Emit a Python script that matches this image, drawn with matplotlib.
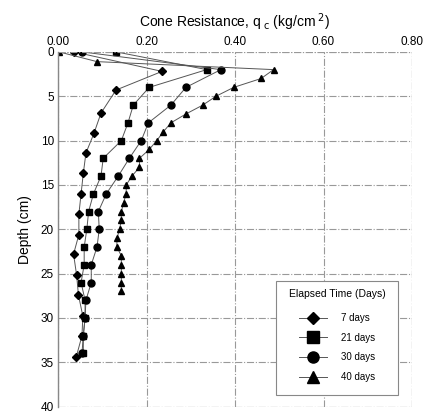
import matplotlib
matplotlib.use("Agg")
import matplotlib.pyplot as plt

plt.rcParams['font.family'] = ['Liberation Sans', 'DejaVu Sans']

# 7 days
d7 = [0, 2.2, 4.3, 6.9, 9.2, 11.4, 13.7, 16.0, 18.3, 20.6, 22.8, 25.2, 27.4, 29.8, 32.0, 34.4]
q7 = [0.036, 0.235, 0.131, 0.097, 0.081, 0.063, 0.057, 0.052, 0.047, 0.047, 0.035, 0.042,
      0.046, 0.056, 0.054, 0.041]
# 21 days
d21 = [0, 2, 4, 6, 8, 10, 12, 14, 16, 18, 20, 22, 24, 26, 28, 30, 32, 34]
q21 = [0.131, 0.336, 0.206, 0.170, 0.158, 0.143, 0.102, 0.097, 0.080, 0.069, 0.065, 0.059,
       0.059, 0.052, 0.061, 0.061, 0.057, 0.057]
# 30 days
d30 = [0, 2, 4, 6, 8, 10, 12, 14, 16, 18, 20, 22, 24, 26, 28, 30, 32, 34]
q30 = [0.054, 0.368, 0.289, 0.255, 0.204, 0.188, 0.161, 0.136, 0.109, 0.091, 0.093, 0.088,
       0.075, 0.075, 0.063, 0.061, 0.057, 0.054]
# 40 days
d40 = [0, 1.1, 2, 3, 4, 5, 6, 7, 8, 9, 10, 11, 12, 13, 14, 15, 16, 17, 18, 19, 20, 21, 22,
       23, 24, 25, 26, 27]
q40 = [0.002, 0.088, 0.487, 0.459, 0.397, 0.357, 0.327, 0.289, 0.255, 0.238, 0.223, 0.206,
       0.184, 0.184, 0.167, 0.154, 0.154, 0.148, 0.143, 0.143, 0.139, 0.133, 0.133, 0.143,
       0.143, 0.143, 0.143, 0.143]

xticks = [0.0, 0.2, 0.4, 0.6, 0.8]
yticks = [0, 5, 10, 15, 20, 25, 30, 35, 40]

fig = plt.figure(figsize=(4.27, 4.15), dpi=100)
ax = fig.add_axes([0.136, 0.02, 0.829, 0.855])

lc = '#555555'
ax.plot(q7, d7, marker='D', ms=4, color=lc, mfc='k', mec='k', lw=0.7, label='7 days')
ax.plot(q21, d21, marker='s', ms=5, color=lc, mfc='k', mec='k', lw=0.7, label='21 days')
ax.plot(q30, d30, marker='o', ms=5, color=lc, mfc='k', mec='k', lw=0.7, label='30 days')
ax.plot(q40, d40, marker='^', ms=5, color=lc, mfc='k', mec='k', lw=0.7, label='40 days')

ax.set_xlim(0, 0.8)
ax.set_ylim(40, 0)
ax.xaxis.tick_top()
ax.xaxis.set_label_position('top')
ax.set_xticks(xticks)
ax.set_xticklabels(['%.2f' % v for v in xticks])
ax.set_yticks(yticks)
ax.tick_params(length=0, labelsize=8.5, pad=3)
ax.set_xlabel('Cone Resistance, q$_{\\ \\mathrm{c}}$ (kg/cm$^{\\ 2}$)', fontsize=10, labelpad=6)
ax.set_ylabel('Depth (cm)', fontsize=10, labelpad=6)

for s in ['top', 'right', 'bottom']:
    ax.spines[s].set_visible(False)
ax.spines['left'].set_color('#888888')
ax.spines['left'].set_linewidth(1.0)
ax.grid(True, color='#999999', ls='-.', lw=0.8)
for v in [0, 40]:
    ax.axhline(v, color='#999999', ls='-.', lw=0.8)
ax.axvline(0.8, color='#999999', ls='-.', lw=0.8)

leg = ax.legend(title='Elapsed Time (Days)', loc='lower right', bbox_to_anchor=(0.975, 0.02),
                fontsize=7, title_fontsize=7.5, markerscale=1.6, handlelength=2.8,
                labelspacing=1.0, borderpad=1.3, fancybox=False, framealpha=1,
                edgecolor='#888888', handletextpad=1.5)
leg.get_frame().set_linewidth(0.8)
leg.get_title().set_position((0, 4))

fig.savefig('out.png', dpi=100)
